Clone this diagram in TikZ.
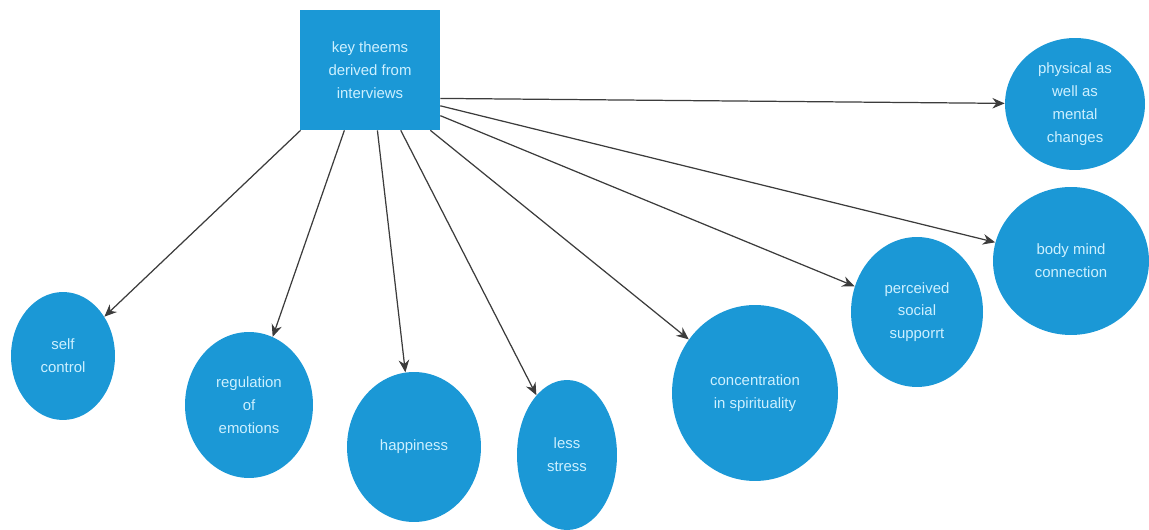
\documentclass[tikz,border=0pt]{standalone}
\usepackage{fontspec}
\setsansfont{Liberation Sans}
\usetikzlibrary{shapes.geometric, arrows.meta}
\definecolor{themeblue}{RGB}{27,152,214}
\definecolor{themetext}{RGB}{205,240,255}
\definecolor{arrowgray}{RGB}{60,60,60}
\begin{document}
\begin{tikzpicture}[x=0.02cm, y=0.02cm, >={Stealth[length=7pt, width=6pt]},
	every node/.style={font=\sffamily\fontsize{8.5}{13}\selectfont, text=themetext, align=center, inner sep=0pt},
	theme/.style={ellipse, fill=themeblue},
	link/.style={->, draw=arrowgray, line width=0.7pt}]
	\useasboundingbox (0,0) rectangle (1149,530);
	% centre box
	\node[rectangle, fill=themeblue, minimum width=2.8cm, minimum height=2.4cm] (key) at (370,460) {key theems\\derived from\\interviews};
	
	% themes, left to right
	\node[theme, minimum width=2.08cm, minimum height=2.56cm] (self) at (63,174) {self\\control};
	\node[theme, minimum width=2.56cm, minimum height=2.92cm] (regul) at (249,125) {regulation\\of\\emotions};
	\node[theme, minimum width=2.68cm, minimum height=3.0cm] (happy) at (414,83) {happiness};
	\node[theme, minimum width=2.0cm, minimum height=3.0cm] (less) at (567,75) {less\\stress};
	\node[theme, minimum width=3.32cm, minimum height=3.52cm] (conc) at (755,137) {concentration\\in spirituality};
	\node[theme, minimum width=2.64cm, minimum height=3.0cm] (perc) at (917,218) {perceived\\social\\supporrt};
	\node[theme, minimum width=3.12cm, minimum height=2.96cm] (body) at (1071,269) {body mind\\connection};
	\node[theme, minimum width=2.8cm, minimum height=2.64cm] (phys) at (1075,426) {physical as\\well as\\mental\\changes};
	
	% arrows out of the box
	\draw[link] (key.-139) -- (self);
	\draw[link] (key.-113) -- (regul);
	\draw[link] (key.-83) -- (happy);
	\draw[link] (key.-63) -- (less);
	\draw[link] (key.-45) -- (conc);
	\draw[link] (key.-33) -- (perc);
	\draw[link] (key.-27) -- (body);
	\draw[link] (key.-22) -- (phys);
\end{tikzpicture}
\end{document}
